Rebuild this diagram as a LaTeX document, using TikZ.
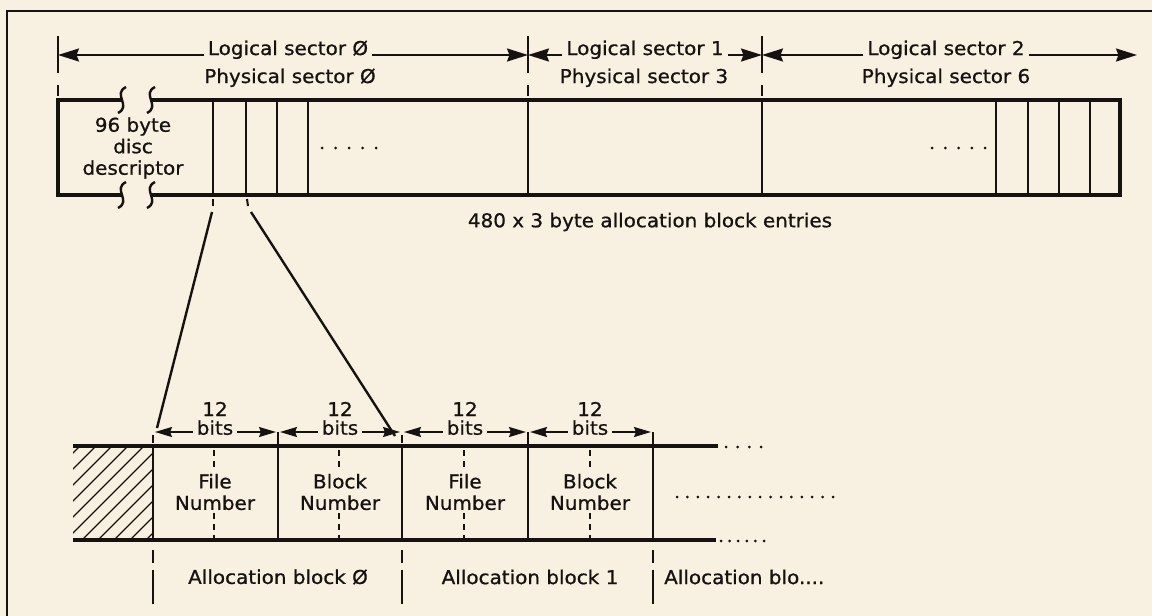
\documentclass[tikz,border=0pt]{standalone}
\usepackage{fontspec}
\setmainfont[FakeStretch=1.05,FakeBold=0.8]{DejaVu Sans}
\usetikzlibrary{arrows.meta}
\definecolor{paper}{RGB}{248,240,224}
\definecolor{ink}{RGB}{22,18,16}
\begin{document}
\begin{tikzpicture}[x=1pt,y=-1pt,
  lab/.style={font=\fontsize{19}{21.5}\selectfont, text=ink, inner sep=0pt, inner xsep=4pt, align=center},
  dim/.style={draw=ink, line width=2pt, -{Stealth[length=21pt,width=13pt,inset=2.5pt]}},
  bitarrow/.style={draw=ink, line width=1.8pt, -{Stealth[length=17pt,width=10pt,inset=2pt]}},
  tickline/.style={draw=ink, line width=2pt},
  boxline/.style={draw=ink, line width=3.6pt},
  divline/.style={draw=ink, line width=2.6pt},
  squig/.style={draw=ink, line width=2.4pt},
  fanline/.style={draw=ink, line width=2.4pt},
  dashdiv/.style={draw=ink, line width=2pt, dash pattern=on 6pt off 5pt},
  hatchline/.style={draw=ink, line width=1.4pt},
  dotmark/.style={fill=ink},
  frameline/.style={draw=ink, line width=1.6pt}
]
\fill[paper] (0,0) rectangle (1152,616);
\useasboundingbox (0,0) rectangle (1152,616);

% frame
\draw[frameline] (1152,11) -- (7,11) -- (7,616);

% ---------- top dimension labels ----------
\node[lab, anchor=base] (ls0) at (288,55) {Logical sector Ø};
\node[lab, anchor=base] (ps0) at (290,83) {Physical sector Ø};
\node[lab, anchor=base] (ls1) at (645,55) {Logical sector 1};
\node[lab, anchor=base] (ps1) at (644,83) {Physical sector 3};
\node[lab, anchor=base] (ls2) at (946,55) {Logical sector 2};
\node[lab, anchor=base] (ps2) at (946,83) {Physical sector 6};

\coordinate (t0) at (58,55);
\coordinate (t1) at (528,55);
\coordinate (t2) at (762,55);
\coordinate (tend) at (1137,55);

\draw[dim] (ls0.base west) -- (t0);
\draw[dim] (ls0.base east) -- (t1);
\draw[dim] (ls1.base west) -- (t1);
\draw[dim] (ls1.base east) -- (t2);
\draw[dim] (ls2.base west) -- (t2);
\draw[dim] (ls2.base east) -- (tend);

% ticks
\foreach \x in {58,528,762}{
  \draw[tickline] (\x,36) -- (\x,73) (\x,85) -- (\x,96);
}

% ---------- sector box ----------
\draw[boxline] (122,100) -- (58,100) -- (58,195) -- (122,195);
\draw[boxline] (151,100) -- (1120,100) -- (1120,195) -- (151,195);
\foreach \x in {122,151}{
  \draw[squig] (\x+4,87) .. controls (\x-10,94) and (\x+10,106) .. (\x-4,113);
  \draw[squig] (\x+4,182) .. controls (\x-10,189) and (\x+10,201) .. (\x-4,208);
}
\foreach \x in {213,246,277,308,528,762,996,1028,1059,1090}{
  \draw[divline] (\x,100) -- (\x,195);
}
\foreach \i in {0,...,4}{
  \fill[dotmark] (322+\i*13.5,148) circle (1.5pt);
  \fill[dotmark] (932+\i*13.3,148) circle (1.5pt);
}
\node[lab] (desc) at (133,148) {96 byte\\disc\\descriptor};
\node[lab] (entries) at (650,222) {480 x 3 byte allocation block entries};

% ---------- fan lines ----------
\coordinate (fa0) at (213,199);
\coordinate (fa1) at (213,206);
\coordinate (fb0) at (247,199);
\coordinate (fb1) at (248,206);
\coordinate (f1s) at (212,212);
\coordinate (f1e) at (157,428);
\coordinate (f2s) at (251,212);
\coordinate (f2e) at (395,436);
\draw[tickline] (fa0) -- (fa1);
\draw[tickline] (fb0) -- (fb1);
\draw[fanline] (f1s) -- (f1e);
\draw[fanline] (f2s) -- (f2e);

% ---------- allocation block strip ----------
\begin{scope}
  \clip (73,446) rectangle (153,540);
  \foreach \x in {-30,-14,...,160}{
    \draw[hatchline] (\x,540) -- (\x+94,446);
  }
\end{scope}
\draw[boxline] (73,446) -- (718,446);
\draw[boxline] (73,540) -- (716,540);
\foreach \i in {0,...,3}{ \fill[dotmark] (726+\i*11.7,447) circle (1.5pt); }
\foreach \i in {0,...,5}{ \fill[dotmark] (721+\i*8.6,541) circle (1.5pt); }
\foreach \i in {0,...,15}{ \fill[dotmark] (677+\i*10.4,497) circle (1.5pt); }

% solid dividers
\draw[divline] (153,446) -- (153,540);
\draw[divline] (278,432) -- (278,540);
\draw[divline] (402,446) -- (402,540);
\draw[divline] (528,432) -- (528,540);
\draw[divline] (653,432) -- (653,540);
% block boundary extensions
\foreach \x in {153,402}{ \draw[tickline] (\x,435) -- (\x,443); }
\foreach \x in {153,402,653}{
  \draw[tickline] (\x,550) -- (\x,563) (\x,570) -- (\x,604);
}
% dashed field centres
\foreach \x in {214,339,464,590}{
  \draw[dashdiv] (\x,450) -- (\x,471);
  \draw[dashdiv] (\x,513) -- (\x,539);
}

% 12 bits groups
\foreach \a/\b/\c/\n in {153/278/215/g1, 278/402/340/g2, 402/528/465/g3, 528/653/590/g4}{
  \node[lab] (\n top) at (\c,409) {12};
  \node[lab, anchor=mid] (\n bits) at (\c,432) {bits};
  \coordinate (\n l) at (\a+2,432);
  \coordinate (\n r) at (\b-2,432);
  \draw[bitarrow] (\n bits.mid west) -- (\n l);
  \draw[bitarrow] (\n bits.mid east) -- (\n r);
}

% field labels
\node[lab] (fn0) at (215,492) {File\\Number};
\node[lab] (bn0) at (340,492) {Block\\Number};
\node[lab] (fn1) at (465,492) {File\\Number};
\node[lab] (bn1) at (590,492) {Block\\Number};

% block labels
\node[lab] (ab0) at (278,577) {Allocation block Ø};
\node[lab] (ab1) at (530,577) {Allocation block 1};
\node[lab, anchor=west] (ab2) at (660,577) {Allocation blo....};
\end{tikzpicture}
\end{document}
